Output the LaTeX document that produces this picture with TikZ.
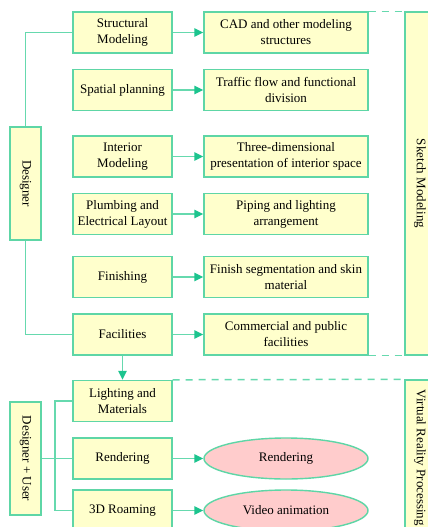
\documentclass[tikz,border=0pt]{standalone}
\usepackage{fontspec}
\setmainfont{Liberation Serif}
\usetikzlibrary{arrows.meta,shapes.geometric}
\definecolor{bord}{HTML}{5ED6A6}
\definecolor{conn}{HTML}{66D9AE}
\definecolor{tip}{HTML}{1CC48E}
\definecolor{boxfill}{HTML}{FFFFCC}
\definecolor{ellfill}{HTML}{FFCCCC}
\tikzset{
  lbox/.style={draw=bord, line width=1.4pt, fill=boxfill, minimum width=99pt, minimum height=41pt, inner sep=1pt, align=center, font=\fontsize{13}{16}\selectfont},
  rbox/.style={lbox, minimum width=164pt},
  ell/.style={ellipse, draw=bord, line width=1.4pt, fill=ellfill, minimum width=164pt, minimum height=41pt, inner sep=0pt, font=\fontsize{13}{16}\selectfont},
  sidebox/.style={draw=bord, line width=1.4pt, fill=boxfill, minimum width=31pt, inner sep=0pt},
  conline/.style={draw=conn, line width=1.4pt},
  arr/.style={conline, -{Triangle[length=9pt,width=8.5pt,fill=tip,color=tip]}},
  dashline/.style={draw=conn, line width=1.5pt, dash pattern=on 7pt off 6pt},
  vtext/.style={rotate=-90, font=\fontsize{13}{16}\selectfont}
}
\begin{document}
\begin{tikzpicture}[x=1pt,y=-1pt]
\clip (0,0) rectangle (428,527);
\useasboundingbox (0,0) rectangle (428,527);
\fill[white] (0,0) rectangle (428,527);

% left column
\node[lbox] (s1) at (122.5,32.5) {Structural\\Modeling};
\node[lbox] (s2) at (122.5,90) {Spatial planning};
\node[lbox] (s3) at (122.5,156.5) {Interior\\Modeling};
\node[lbox] (s4) at (122.5,214) {Plumbing and\\Electrical Layout};
\node[lbox] (s5) at (122.5,277) {Finishing};
\node[lbox] (s6) at (122.5,334.5) {Facilities};
\node[lbox] (v1) at (122.5,401) {Lighting and\\Materials};
\node[lbox] (v2) at (122.5,458.5) {Rendering};
\node[lbox] (v3) at (122.5,510.5) {3D Roaming};

% right column
\node[rbox] (r1) at (286,32.5) {CAD and other modeling\\structures};
\node[rbox] (r2) at (286,90) {Traffic flow and functional\\division};
\node[rbox] (r3) at (286,156.5) {Three-dimensional\\presentation of interior space};
\node[rbox] (r4) at (286,214) {Piping and lighting\\arrangement};
\node[rbox] (r5) at (286,277) {Finish segmentation and skin\\material};
\node[rbox] (r6) at (286,334.5) {Commercial and public\\facilities};
\node[ell] (e1) at (286,458.5) {Rendering};
\node[ell] (e2) at (286,510.5) {Video animation};

% side boxes
\node[sidebox, minimum height=113pt] (des) at (25.5,183.5) {};
\node[vtext] (destext) at (des.center) {Designer};
\node[sidebox, minimum height=113pt] (du) at (25.5,458.5) {};
\node[vtext] (dutext) at (du.center) {Designer + User};
\node[sidebox, minimum width=35pt, minimum height=343pt] (sk) at (422.5,183.5) {};
\node[vtext] (sktext) at (420,183.5) {Sketch Modeling};
\node[sidebox, minimum width=35pt, minimum height=220pt] (vr) at (422.5,490) {};
\node[vtext, anchor=west] (vrtext) at (420,386) {Virtual Reality Processing};

% dashed lines
\draw[dashline] (r1.north east) -- (sk.north west);
\draw[dashline] (r6.south east) -- (sk.south west);
\draw[dashline] (v1.north east) -- (vr.north west);

% designer connectors
\draw[conline] (des.north) |- (s1.west);
\draw[conline] (des.south) |- (s6.west);

% arrows left to right
\foreach \i in {1,...,6}{\draw[arr] (s\i.east) -- (r\i.west);}
\draw[arr] (v2.east) -- (e1.west);
\draw[arr] (v3.east) -- (e2.west);
\draw[arr] (s6.south) -- (v1.north);

% designer+user connectors
\coordinate (j) at (55,458.5);
\draw[conline] (du.east) -- (v2.west);
\draw[conline] (v1.west) -| (j) |- (v3.west);
\end{tikzpicture}
\end{document}
